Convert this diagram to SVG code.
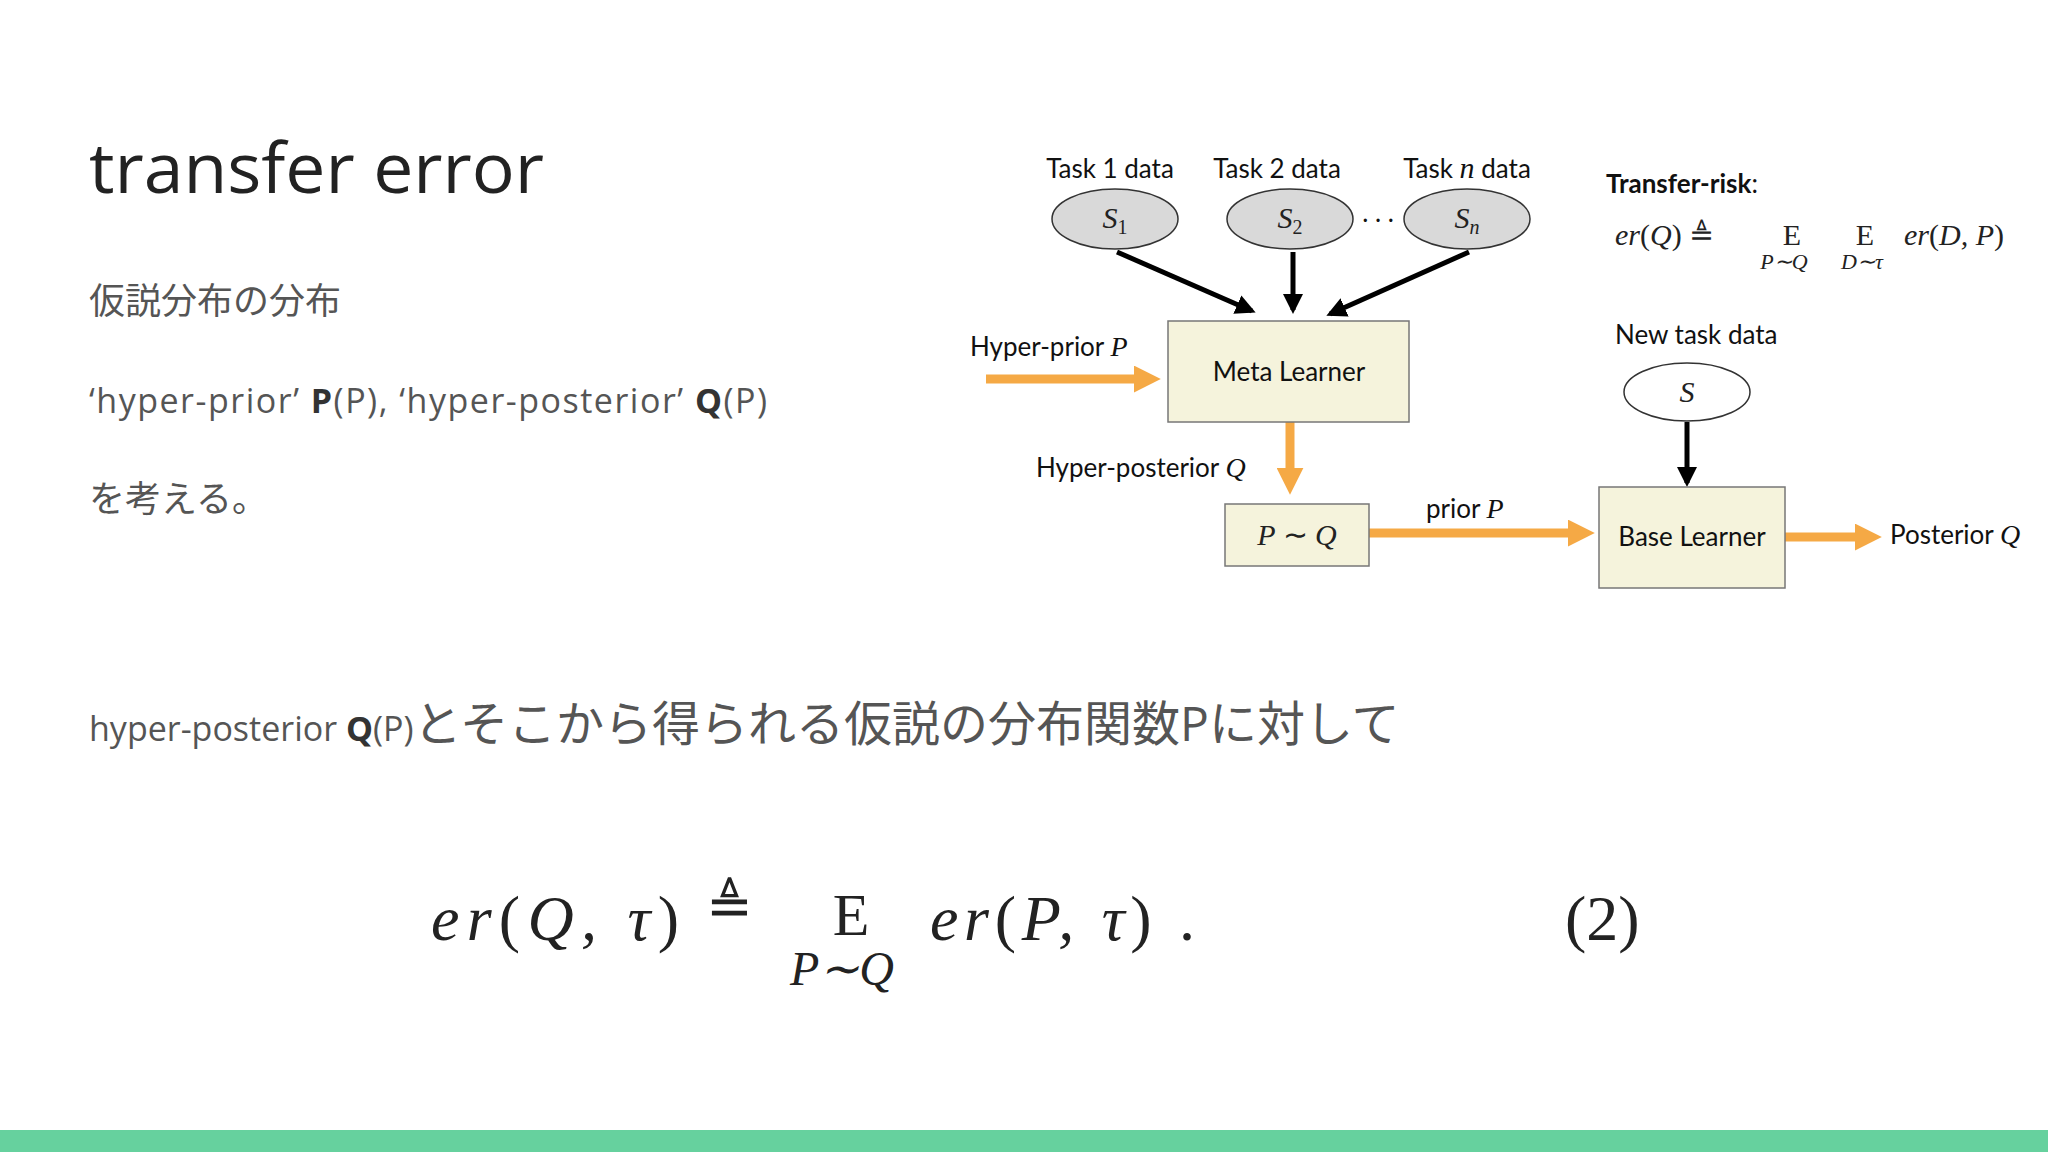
<svg xmlns="http://www.w3.org/2000/svg" width="2048" height="1152" viewBox="0 0 2048 1152">
<style>
.t{font-family:"Open Sans","Liberation Sans",sans-serif;fill:#222}
.g{font-family:"Open Sans","Noto Sans CJK JP",sans-serif;fill:#555}
.m{font-family:"Liberation Serif",serif;font-style:italic;fill:#222}
.n{font-family:"Liberation Serif",serif;fill:#222}
.d{font-family:"Lato","Liberation Sans",sans-serif;font-size:26px;fill:#111}
.box{fill:#f5f3dc;stroke:#777;stroke-width:1.5}
.ell{fill:#d9d9d9;stroke:#333;stroke-width:1.5}
.bk{stroke:#000;stroke-width:5;fill:none}
.or{stroke:#f5a945;stroke-width:9;fill:none}
</style>
<defs>
<marker id="ab" viewBox="0 0 10 10" refX="8" refY="5" markerWidth="4" markerHeight="4" orient="auto"><path d="M0,0L10,5L0,10z" fill="#000"/></marker>
<marker id="ao" viewBox="0 0 10 10" refX="6" refY="5" markerWidth="3" markerHeight="3" orient="auto"><path d="M0,0L10,5L0,10z" fill="#f5a945"/></marker>
</defs>
<rect width="2048" height="1152" fill="#fff"/>
<text class="t" x="89" y="193" font-size="70" textLength="455" lengthAdjust="spacingAndGlyphs">transfer error</text>
<text class="g" x="89" y="314" font-size="36">仮説分布の分布</text>
<text class="g" x="89" y="413" font-size="34" textLength="678">‘hyper-prior’ <tspan font-weight="bold" fill="#333">P</tspan>(P), ‘hyper-posterior’ <tspan font-weight="bold" fill="#333">Q</tspan>(P)</text>
<text class="g" x="89" y="512" font-size="36">を考える。</text>
<text class="g" x="89" y="741" font-size="34">hyper-posterior <tspan font-weight="bold" fill="#333">Q</tspan>(P)<tspan font-size="48">とそこから得られる仮説の分布関数Pに対して</tspan></text>
<g id="eq">
<text class="m" x="431" y="940" font-size="64" textLength="248">er<tspan class="n" font-style="normal">(</tspan>Q, τ<tspan font-style="normal">)</tspan></text>
<text class="n" x="729" y="925" font-size="56" text-anchor="middle">≜</text>
<text class="n" x="851" y="935" font-size="60" text-anchor="middle">E</text>
<text class="m" x="842" y="985" font-size="48" text-anchor="middle">P∼Q</text>
<text class="m" x="930" y="940" font-size="64" textLength="265">er<tspan font-style="normal">(</tspan>P, τ<tspan font-style="normal">) .</tspan></text>
<text class="n" x="1565" y="940" font-size="64">(2)</text>
</g>
<g id="connectors">
<line class="bk" x1="1117" y1="252" x2="1252" y2="311" marker-end="url(#ab)"/>
<line class="bk" x1="1293" y1="252" x2="1293" y2="310" marker-end="url(#ab)"/>
<line class="bk" x1="1469" y1="252" x2="1330" y2="314" marker-end="url(#ab)"/>
<line class="bk" x1="1687" y1="422" x2="1687" y2="483" marker-end="url(#ab)"/>
<line class="or" x1="986" y1="379" x2="1150" y2="379" marker-end="url(#ao)"/>
<line class="or" x1="1290" y1="422" x2="1290" y2="484" marker-end="url(#ao)"/>
<line class="or" x1="1369" y1="533" x2="1584" y2="533" marker-end="url(#ao)"/>
<line class="or" x1="1785" y1="537" x2="1871" y2="537" marker-end="url(#ao)"/>
</g>
<g id="s1"><ellipse class="ell" cx="1115" cy="219" rx="63" ry="30"/><text class="m" x="1115" y="228" font-size="30" text-anchor="middle">S<tspan font-style="normal" font-size="20" dy="6">1</tspan></text><text class="d" x="1110" y="178" text-anchor="middle">Task 1 data</text></g>
<g id="s2"><ellipse class="ell" cx="1290" cy="219" rx="63" ry="30"/><text class="m" x="1290" y="228" font-size="30" text-anchor="middle">S<tspan font-style="normal" font-size="20" dy="6">2</tspan></text><text class="d" x="1277" y="178" text-anchor="middle">Task 2 data</text></g>
<text class="d" x="1378" y="222" text-anchor="middle">. . .</text>
<g id="sn"><ellipse class="ell" cx="1467" cy="219" rx="63" ry="30"/><text class="m" x="1467" y="228" font-size="30" text-anchor="middle">S<tspan font-size="20" dy="6">n</tspan></text><text class="d" x="1467" y="178" text-anchor="middle">Task <tspan font-family="Liberation Serif,serif" font-style="italic" font-size="30">n</tspan> data</text></g>
<g id="meta"><rect class="box" x="1168" y="321" width="241" height="101"/><text class="d" x="1289" y="381" text-anchor="middle">Meta Learner</text></g>
<text class="d" x="970" y="356">Hyper-prior <tspan font-family="Liberation Serif,serif" font-style="italic" font-size="28">P</tspan></text>
<text class="d" x="1036" y="477">Hyper-posterior <tspan font-family="Liberation Serif,serif" font-style="italic" font-size="28">Q</tspan></text>
<g id="pq"><rect class="box" x="1225" y="504" width="144" height="62"/><text class="m" x="1297" y="545" font-size="30" text-anchor="middle">P <tspan font-style="normal">∼</tspan> Q</text></g>
<text class="d" x="1426" y="518">prior  <tspan font-family="Liberation Serif,serif" font-style="italic" font-size="28">P</tspan></text>
<g id="base"><rect class="box" x="1599" y="487" width="186" height="101"/><text class="d" x="1692" y="546" text-anchor="middle">Base Learner</text></g>
<text class="d" x="1890" y="544">Posterior <tspan font-family="Liberation Serif,serif" font-style="italic" font-size="28">Q</tspan></text>
<g id="snew"><ellipse cx="1687" cy="392" rx="63" ry="29" fill="#fff" stroke="#333" stroke-width="1.5"/><text class="m" x="1687" y="402" font-size="30" text-anchor="middle">S</text><text class="d" x="1615" y="344">New task data</text></g>
<g id="risk"><text class="d" x="1606" y="193" font-weight="bold">Transfer-risk<tspan font-weight="normal">:</tspan></text>
<text class="m" x="1615" y="245" font-size="30">er<tspan font-style="normal">(</tspan>Q<tspan font-style="normal">) ≜</tspan></text>
<text class="n" x="1792" y="245" font-size="30" text-anchor="middle">E</text>
<text class="n" x="1865" y="245" font-size="30" text-anchor="middle">E</text>
<text class="m" x="1904" y="245" font-size="30">er<tspan font-style="normal">(</tspan>D, P<tspan font-style="normal">)</tspan></text>
<text class="m" x="1784" y="269" font-size="22" text-anchor="middle">P∼Q</text><text class="m" x="1862" y="269" font-size="22" text-anchor="middle">D∼τ</text></g>
<rect x="0" y="1130" width="2048" height="22" fill="#66d19e"/>
</svg>
